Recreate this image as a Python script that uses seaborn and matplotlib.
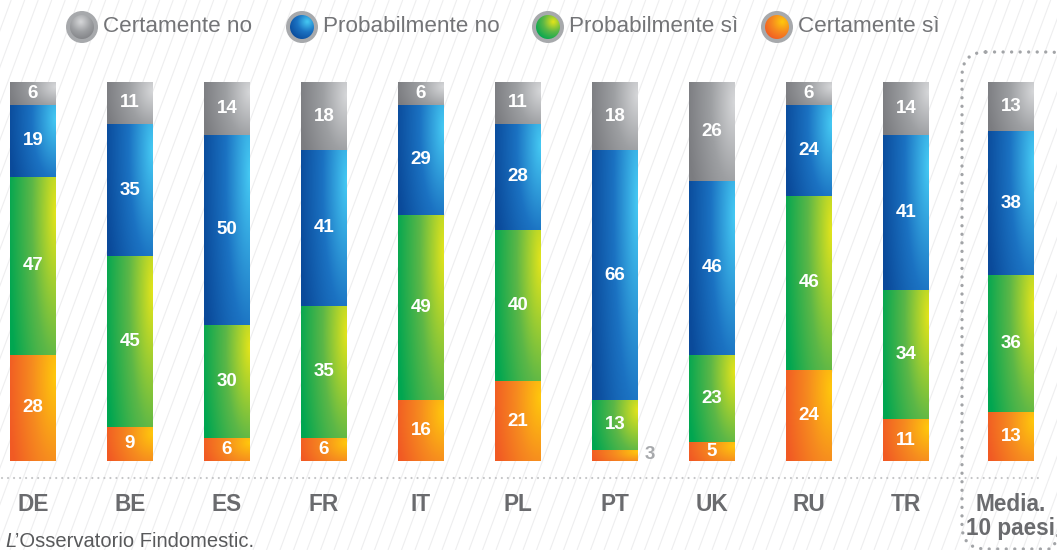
import numpy as np
import pandas as pd
import matplotlib
matplotlib.use("Agg")
import matplotlib.pyplot as plt
import seaborn as sns
from matplotlib.colors import LinearSegmentedColormap
from matplotlib.patches import FancyBboxPatch, Circle
from matplotlib.collections import LineCollection
from matplotlib import transforms

# ---- data -------------------------------------------------------------
countries = ["DE", "BE", "ES", "FR", "IT", "PL", "PT", "UK", "RU", "TR", "Media.\n10 paesi"]
certamente_si = [28, 9, 6, 6, 16, 21, 3, 5, 24, 11, 13]
probabilmente_si = [47, 45, 30, 35, 49, 40, 13, 23, 46, 34, 36]
probabilmente_no = [19, 35, 50, 41, 29, 28, 66, 46, 24, 41, 38]
certamente_no = [6, 11, 14, 18, 6, 11, 18, 26, 6, 14, 13]
legend_labels = ["Certamente no", "Probabilmente no", "Probabilmente sì", "Certamente sì"]

# ---- style ------------------------------------------------------------
sns.set_theme(style="white")
plt.rcParams["font.family"] = ["Liberation Sans", "DejaVu Sans"]

TEXT_GRAY = "#6a6b6e"
ramps = {
    "gray": ["#7b7c80", "#9d9fa2", "#d6d7d9"],
    "blue": ["#0a4a9a", "#1b72c2", "#45c9f3"],
    "green": ["#00a651", "#5cb747", "#e2e41b"],
    "orange": ["#f15a24", "#f68b1f", "#ffc80c"],
}
cmaps = {k: LinearSegmentedColormap.from_list(k, v) for k, v in ramps.items()}

# bar positions (the average column is set slightly apart)
x_pos = [0, 1, 2, 3, 4, 5, 6, 7, 8, 9, 10.08]
BAR_W = 0.474

W, H = 1057, 550
fig = plt.figure(figsize=(W / 100, H / 100), dpi=100)
fig.patch.set_facecolor("white")

# pixel-space decoration layer
deco = fig.add_axes([0, 0, 1, 1], zorder=0)
deco.set_xlim(0, W)
deco.set_ylim(H, 0)
deco.axis("off")

# faint diagonal background pattern
segs = []
for c in np.arange(-260, W + 20, 13.5):
    segs.append([(c, H), (c + H / 2.7, 0)])
deco.add_collection(LineCollection(segs, colors="#eeeeef", linewidths=0.8, zorder=0))

# data layer
ax = fig.add_axes([0, 0, 1, 1], zorder=1)
ax.patch.set_visible(False)

segments = [
    (certamente_si, "orange"),
    (probabilmente_si, "green"),
    (probabilmente_no, "blue"),
    (certamente_no, "gray"),
]

u = np.linspace(0, 1, 80)[None, :]
v = np.linspace(0, 1, 80)[:, None]
shade = np.clip(1 - np.hypot((1 - u) / 1.05, (0.8 - v) / 1.7), 0, 1)

bottom = np.zeros(len(countries))
for values, key in segments:
    df = pd.DataFrame({"pos": x_pos, "value": values})
    n0 = len(ax.patches)
    sns.barplot(data=df, x="pos", y="value", native_scale=True, orient="x",
                width=BAR_W, bottom=bottom, color=ramps[key][1],
                errorbar=None, linewidth=0, ax=ax)
    for patch in ax.patches[n0:]:
        x0, y0 = patch.get_x(), patch.get_y()
        w, h = patch.get_width(), patch.get_height()
        im = ax.imshow(shade, cmap=cmaps[key], origin="lower",
                       extent=(x0, x0 + w, y0, y0 + h), aspect="auto",
                       interpolation="bicubic", zorder=2)
        im.set_clip_path(patch)
        patch.set_facecolor("none")
    for xp, val, b in zip(x_pos, values, bottom):
        if val >= 4:
            ax.text(xp, b + val / 2, str(val), ha="center", va="center",
                    color="white", fontsize=13.5, fontweight="bold", zorder=3)
        else:
            ax.text(xp + 0.36, b + val / 2 + 0.3, str(val), ha="center", va="center",
                    color="#a7a9ac", fontsize=13.5, fontweight="bold", zorder=3)
    bottom = bottom + np.array(values)

ax.set_xlim(-33 / 97, (W - 33) / 97)
ax.set_ylim(-(H - 461) / 3.79, 461 / 3.79)
ax.axis("off")

# category labels: x in data units, y in pixels
blend = transforms.blended_transform_factory(ax.transData, deco.transData)
for xp, name in zip(x_pos, countries):
    for i, line in enumerate(name.split("\n")):
        deco.text(xp, 511 + 24 * i, line, transform=blend, ha="center",
                  va="baseline", fontsize=16.3, fontweight="bold", color=TEXT_GRAY)

# dotted baseline
deco.plot([2, 1040], [478, 478], color="#c4c5c7", lw=1.6,
          linestyle=(0, (0.01, 2.7)), dash_capstyle="round", zorder=1)

# dotted frame around the average column (its right side runs past the edge)
frame = FancyBboxPatch((962, 52), 112, 497, boxstyle="round,pad=0,rounding_size=24",
                       fill=False, edgecolor="#a2a4a7", linewidth=2.4,
                       linestyle=(0, (0.01, 2.55)), zorder=1)
frame.set_capstyle("round")
deco.add_patch(frame)

# legend
legend_x = [82, 302, 548, 777]
legend_keys = ["gray", "blue", "green", "orange"]
cy = 27
gx = np.linspace(-1, 1, 64)[None, :]
gy = np.linspace(-1, 1, 64)[:, None]
for lx, key, label in zip(legend_x, legend_keys, legend_labels):
    deco.add_patch(Circle((lx, cy), 16, facecolor="#a7a9ac", edgecolor="none", zorder=2))
    inner = Circle((lx, cy), 12, facecolor="none", edgecolor="none", zorder=3)
    deco.add_patch(inner)
    hx, hy = (-0.1, -0.45) if key == "gray" else (0.45, -0.45)
    z = np.clip(1 - np.hypot(gx - hx, gy - hy) / 1.7, 0, 1)
    im = deco.imshow(z, cmap=cmaps[key], origin="upper",
                     extent=(lx - 12, lx + 12, cy + 12, cy - 12),
                     aspect="auto", interpolation="bicubic", zorder=3)
    im.set_clip_path(inner)
    deco.text(lx + 21, 32, label, ha="left", va="baseline", fontsize=16.2,
              color="#737477", zorder=3)
deco.set_xlim(0, W)
deco.set_ylim(H, 0)

# source note
deco.text(5, 547, "L", ha="left", va="baseline", fontsize=14.5,
          style="italic", color="#58595b")
deco.text(15, 547, "\u2019Osservatorio Findomestic.", ha="left", va="baseline",
          fontsize=14.5, color="#58595b")

fig.savefig("out.png", dpi=100, facecolor="white")
